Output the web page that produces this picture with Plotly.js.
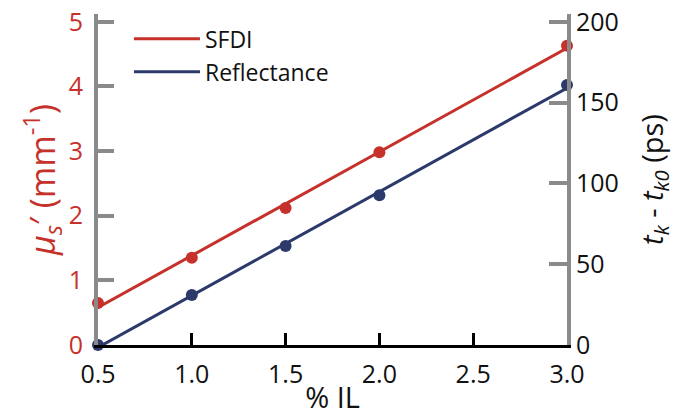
<!DOCTYPE html>
<html>
<head>
<meta charset="utf-8">
<script src="https://cdn.plot.ly/plotly-3.0.1.min.js"></script>
<style>html,body{margin:0;padding:0;background:#fff;}#chart{width:687px;height:416px;}</style>
</head>
<body>
<div id="chart"></div>
<script>
// Data
const ilPercent = [0.5, 1.0, 1.5, 2.0, 3.0];
const sfdiMus = [0.65, 1.35, 2.12, 2.98, 4.63];        // mm^-1 (left axis)
const reflDelay = [0, 30.9, 61.3, 92.6, 160.9];         // ps (right axis)
const xTicks = [0.5, 1.0, 1.5, 2.0, 2.5, 3.0];
const xTickText = ['0.5', '1.0', '1.5', '2.0', '2.5', '3.0'];
const yTicks = [0, 1, 2, 3, 4, 5];
const y2Ticks = [0, 50, 100, 150, 200];

const RED = '#c6312b';
const BLUE = '#2c3a6b';
const GRAY = '#8a8a8a';
const FONT = 'Open Sans, sans-serif';

function linfit(xs, ys) {
  const n = xs.length;
  const mx = xs.reduce((a, b) => a + b, 0) / n;
  const my = ys.reduce((a, b) => a + b, 0) / n;
  let sxy = 0, sxx = 0;
  for (let i = 0; i < n; i++) { sxy += (xs[i] - mx) * (ys[i] - my); sxx += (xs[i] - mx) ** 2; }
  const m = sxy / sxx, c = my - m * mx;
  const x0 = xs[0], x1 = xs[n - 1];
  return { x: [x0, x1], y: [m * x0 + c, m * x1 + c] };
}
const fitR = linfit(ilPercent, sfdiMus);
const fitB = linfit(ilPercent, reflDelay);

const traces = [
  { x: fitR.x, y: fitR.y, mode: 'lines', name: 'SFDI', line: { color: RED, width: 3 }, yaxis: 'y', cliponaxis: false },
  { x: fitB.x, y: fitB.y, mode: 'lines', name: 'Reflectance', line: { color: BLUE, width: 3 }, yaxis: 'y2', cliponaxis: false },
  { x: ilPercent, y: sfdiMus, mode: 'markers', showlegend: false, marker: { color: RED, size: 12 }, yaxis: 'y', cliponaxis: false },
  { x: ilPercent, y: reflDelay, mode: 'markers', showlegend: false, marker: { color: BLUE, size: 12 }, yaxis: 'y2', cliponaxis: false }
];

const layout = {
  width: 687, height: 416,
  margin: { l: 98, r: 120, t: 14, b: 71 },
  paper_bgcolor: '#fff', plot_bgcolor: '#fff',
  font: { family: FONT, size: 24, color: '#111' },
  showlegend: true,
  legend: {
    x: 0.066, y: 0.99, xanchor: 'left', yanchor: 'top',
    bgcolor: 'rgba(0,0,0,0)', font: { family: FONT, size: 23, color: '#111' },
    itemwidth: 66, tracegroupgap: 0
  },
  xaxis: {
    range: [0.5, 3.0], tickvals: xTicks, ticktext: xTickText,
    showgrid: false, zeroline: false,
    showline: true, linecolor: '#000', linewidth: 3,
    ticks: 'inside', ticklen: 12, tickwidth: 3, tickcolor: '#000',
    tickfont: { family: FONT, size: 25, color: '#111' },
    ticklabelstandoff: 5,
    title: { text: '% IL', font: { family: FONT, size: 29, color: '#111' }, standoff: 0 }
  },
  yaxis: {
    range: [0, 5.12], tickvals: yTicks,
    showgrid: false, zeroline: false,
    showline: true, linecolor: GRAY, linewidth: 4,
    ticks: 'inside', ticklen: 16, tickwidth: 4, tickcolor: GRAY,
    tickfont: { family: FONT, size: 25, color: RED },
    ticklabelstandoff: 6,
    title: { text: '<i>μ<sub>s</sub></i>′ (mm<sup>-1</sup>)', font: { family: FONT, size: 34, color: RED }, standoff: 4 }
  },
  yaxis2: {
    overlaying: 'y', side: 'right', anchor: 'x',
    range: [0, 204.8], tickvals: y2Ticks,
    showgrid: false, zeroline: false,
    showline: true, linecolor: GRAY, linewidth: 4,
    ticks: 'inside', ticklen: 18, tickwidth: 4, tickcolor: GRAY,
    tickfont: { family: FONT, size: 25, color: '#111' },
    title: { text: '<i>t<sub>k</sub></i> - <i>t<sub>k0</sub></i> (ps)', font: { family: FONT, size: 29, color: '#111' }, standoff: 26 }
  }
};

Plotly.newPlot('chart', traces, layout, { displayModeBar: false, staticPlot: true });
</script>
</body>
</html>
